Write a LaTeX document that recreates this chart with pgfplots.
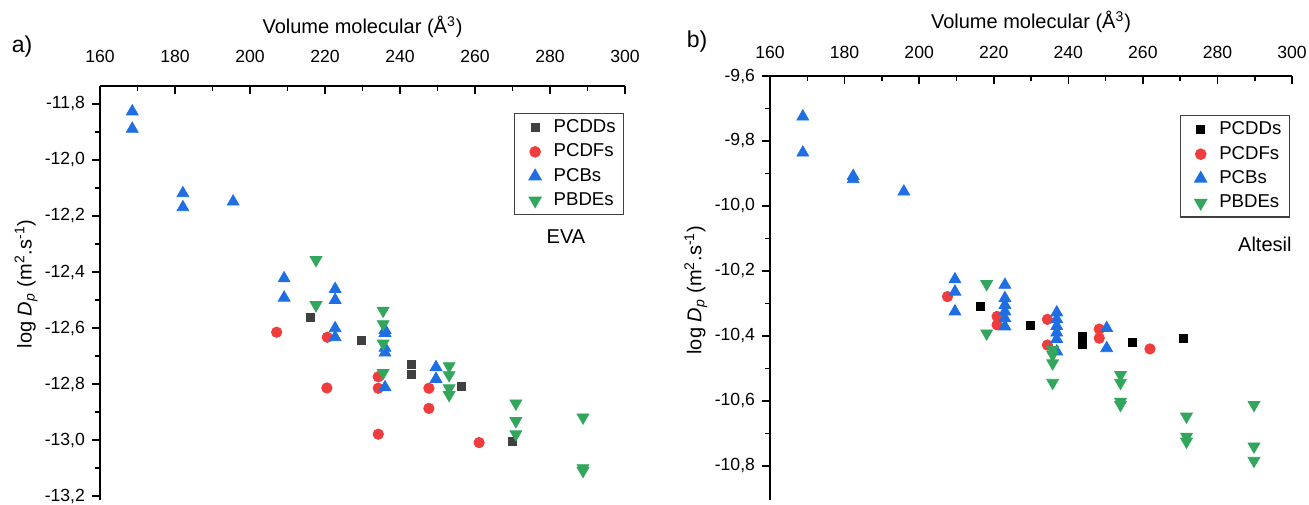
\documentclass[border=0pt]{standalone}
\usepackage{fontspec}
\setmainfont{Liberation Sans}
\usepackage{pgfplots}
\pgfplotsset{compat=1.18}

\definecolor{cB}{HTML}{1F6FE3}
\definecolor{cR}{HTML}{F03C3C}
\definecolor{cG}{HTML}{33A65E}
\definecolor{cK}{HTML}{404040}

\pgfplotsset{
  myaxis/.style={
    scale only axis,
    axis x line*=top, axis y line*=left,
    axis line style={line width=1pt, black},
    xmin=160, xmax=300, xtick={160,180,...,300}, minor x tick num=1,
    minor y tick num=1,
    xtick align=inside, ytick align=outside,
    major tick length=4pt, minor tick length=2.5pt,
    every tick/.style={line width=0.8pt, black},
    tick label style={font=\fontsize{8.8}{10}\selectfont},
    /pgf/number format/assume math mode=true,
    yticklabel style={/pgf/number format/fixed, /pgf/number format/fixed zerofill, /pgf/number format/precision=1, /pgf/number format/use comma},
    xticklabel style={/pgf/number format/fixed, /pgf/number format/precision=0},
    xlabel={Volume molecular (Å\textsuperscript{3})},
    ylabel={log \textit{D}\textsubscript{\textit{p}} (m\textsuperscript{2}.s\textsuperscript{-1})},
    label style={font=\fontsize{11.5}{13}\selectfont},
    clip=false,
    legend cell align=left,
    legend image code/.code={\path (0pt,0pt) (15pt,0pt); \draw[##1] plot coordinates {(8pt,0pt)};},
    legend style={draw=black!75, line width=0.6pt, font=\fontsize{9.3}{11}\selectfont,
      anchor=north east, inner xsep=2pt, inner ysep=1pt,
      nodes={inner ysep=2.1pt}},
  },
  sDD/.style={only marks, mark=square*, mark size=2pt, color=#1},
  sDF/.style={only marks, mark=*, mark size=2.6pt, color=cR},
  sCB/.style={only marks, mark=triangle*, mark size=3.4pt, color=cB},
  sDE/.style={only marks, mark=triangle*, mark size=3.4pt, color=cG, mark options={rotate=180}},
}

\begin{document}
\begin{tikzpicture}
\useasboundingbox (0,0) rectangle (654.5pt,252pt);

\begin{axis}[myaxis,
  at={(50pt,2pt)}, anchor=south west,
  width=262.5pt, height=207pt,
  ymin=-13.214, ymax=-11.736,
  ytick={-13.2,-13.0,...,-11.8},
  xticklabel style={yshift=8pt},
  every axis x label/.style={at={(axis description cs:0.5,1.1425)}, anchor=center},
  every axis y label/.style={at={(axis description cs:-0.141,0.522)}, anchor=center, rotate=90},
  legend style={at={(axis description cs:0.9987,0.9355)}},
]
\addplot[sDD=cK] coordinates {(216.0,-12.563) (229.6,-12.643) (243.1,-12.729) (243.1,-12.764) (256.4,-12.807) (270.0,-13.006)};
\addlegendentry{PCDDs}
\addplot[sDF] coordinates {(207.1,-12.615) (220.6,-12.633) (220.5,-12.814) (234.2,-12.774) (234.2,-12.815) (234.2,-12.979) (247.7,-12.815) (247.7,-12.887) (261.1,-13.009)};
\addlegendentry{PCDFs}
\addplot[sCB] coordinates {(168.6,-11.827) (168.6,-11.889) (182.1,-12.119) (182.1,-12.169) (195.5,-12.149) (209.1,-12.423) (209.1,-12.492) (222.7,-12.461) (222.7,-12.500) (222.7,-12.601) (222.7,-12.633) (236.0,-12.607) (236.0,-12.618) (236.0,-12.671) (236.0,-12.688) (236.0,-12.812) (249.6,-12.740) (249.6,-12.782)};
\addlegendentry{PCBs}
\addplot[sDE] coordinates {(217.6,-12.357) (217.6,-12.518) (235.5,-12.538) (235.5,-12.586) (235.5,-12.655) (235.5,-12.760) (253.1,-12.736) (253.1,-12.768) (253.1,-12.815) (253.1,-12.839) (270.9,-12.869) (270.9,-12.932) (270.9,-12.979) (288.8,-12.919) (288.8,-13.100) (288.8,-13.110)};
\addlegendentry{PBDEs}
\node[font=\fontsize{10}{12}\selectfont] at (axis description cs:0.8876,0.635) {EVA};
\end{axis}

\begin{axis}[myaxis,
  at={(385pt,2pt)}, anchor=south west,
  width=261pt, height=212pt,
  ymin=-10.905, ymax=-9.6,
  ytick={-10.8,-10.6,...,-9.6},
  xticklabel style={yshift=5.3pt},
  every axis x label/.style={at={(axis description cs:0.5,1.127)}, anchor=center},
  every axis y label/.style={at={(axis description cs:-0.142,0.495)}, anchor=center, rotate=90},
  legend style={at={(axis description cs:0.996,0.908)}},
]
\addplot[sDD=black] coordinates {(216.5,-10.308) (229.9,-10.367) (243.8,-10.400) (243.8,-10.425) (257.1,-10.419) (270.8,-10.408)};
\addlegendentry{PCDDs}
\addplot[sDF] coordinates {(207.6,-10.279) (220.9,-10.340) (220.9,-10.366) (234.4,-10.349) (234.4,-10.428) (248.3,-10.379) (248.3,-10.407) (261.9,-10.440)};
\addlegendentry{PCDFs}
\addplot[sCB] coordinates {(168.8,-9.725) (168.8,-9.836) (182.3,-9.908) (182.3,-9.918) (195.9,-9.956) (209.6,-10.226) (209.6,-10.264) (209.6,-10.325) (223.0,-10.243) (223.0,-10.284) (223.0,-10.305) (223.0,-10.325) (223.0,-10.346) (223.0,-10.371) (236.9,-10.328) (236.9,-10.349) (236.9,-10.370) (236.9,-10.390) (236.9,-10.410) (236.9,-10.448) (250.3,-10.376) (250.3,-10.438)};
\addlegendentry{PCBs}
\addplot[sDE] coordinates {(218.1,-10.240) (218.1,-10.392) (235.8,-10.443) (235.8,-10.458) (235.8,-10.484) (235.8,-10.544) (254.0,-10.520) (254.0,-10.544) (254.0,-10.602) (254.0,-10.612) (271.7,-10.648) (271.7,-10.710) (271.7,-10.725) (289.8,-10.612) (289.8,-10.740) (289.8,-10.784)};
\addlegendentry{PBDEs}
\node[font=\fontsize{10}{12}\selectfont] at (axis description cs:0.948,0.604) {Altesil};
\end{axis}

\node[font=\fontsize{11.5}{13}\selectfont] at (11pt,228.5pt) {a)};
\node[font=\fontsize{11.5}{13}\selectfont] at (348.5pt,231pt) {b)};
\end{tikzpicture}
\end{document}
